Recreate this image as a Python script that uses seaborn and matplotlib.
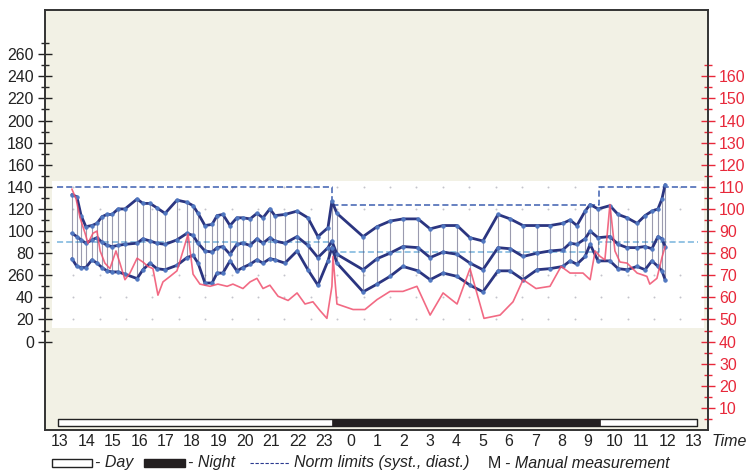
import numpy as np
import pandas as pd
import seaborn as sns
import matplotlib.pyplot as plt
from matplotlib.patches import Rectangle
from matplotlib.lines import Line2D

# blood pressure readings (hours from midnight of day 1, >24 = next day)
bp_time = [13.45, 13.64, 13.80, 13.98, 14.21, 14.40, 14.59, 14.78, 14.97, 15.20,
           15.46, 15.92, 16.14, 16.41, 16.67, 16.98, 17.43, 17.81, 18.04, 18.23,
           18.49, 18.76, 18.95, 19.17, 19.44, 19.70, 19.93, 20.20, 20.46, 20.69,
           20.95, 21.14, 21.52, 21.98, 22.39, 22.77, 23.15, 23.30, 23.49, 24.48,
           25.01, 25.50, 25.99, 26.56, 27.02, 27.51, 28.04, 28.53, 29.02, 29.59,
           30.05, 30.54, 31.07, 31.56, 32.05, 32.32, 32.58, 32.89, 33.08, 33.38,
           33.83, 34.14, 34.48, 34.86, 35.16, 35.42, 35.65, 35.80, 35.92]
systolic = [133, 131, 114, 104, 105, 107, 113, 115, 115, 120,
            120, 129, 125, 125, 121, 116, 128, 126, 123, 116,
            105, 106, 114, 115, 105, 112, 112, 111, 116, 112,
            120, 114, 115, 118, 112, 95, 103, 127, 116, 95,
            104, 109, 111, 111, 102, 105, 105, 94, 91, 115,
            111, 105, 105, 105, 107, 110, 105, 118, 124, 120,
            123, 115, 112, 107, 114, 118, 120, 129, 142]
mean_bp = [98, 95, 92, 89, 92, 94, 90, 87, 86, 87,
           88, 89, 93, 91, 89, 88, 92, 98, 96, 89,
           82, 81, 85, 86, 79, 88, 89, 87, 93, 89,
           94, 91, 89, 95, 87, 76, 85, 91, 79, 65,
           75, 80, 86, 85, 76, 81, 79, 71, 65, 85,
           84, 77, 80, 82, 83, 89, 88, 93, 100, 94,
           95, 88, 85, 85, 86, 84, 95, 93, 86]
diastolic = [75, 68, 67, 67, 74, 71, 67, 64, 63, 63,
             61, 57, 65, 71, 66, 65, 69, 76, 78, 71,
             53, 53, 62, 62, 73, 64, 67, 70, 74, 71,
             75, 74, 71, 82, 65, 51, 73, 85, 71, 45,
             52, 59, 68, 64, 56, 62, 59, 51, 45, 64,
             64, 56, 65, 66, 68, 73, 70, 77, 88, 73,
             73, 66, 65, 68, 65, 73, 68, 64, 56]

# heart rate (right axis)
hr_time = [13.45, 13.61, 13.76, 13.95, 14.06, 14.25, 14.40, 14.52, 14.70, 14.89,
           15.12, 15.27, 15.46, 15.65, 15.92, 16.14, 16.33, 16.52, 16.71, 16.90,
           17.17, 17.43, 17.66, 17.85, 18.04, 18.30, 18.68, 18.98, 19.33, 19.55,
           19.93, 20.20, 20.46, 20.69, 20.95, 21.26, 21.64, 21.98, 22.28, 22.58,
           22.85, 23.11, 23.30, 23.34, 23.49, 24.10, 24.55, 25.01, 25.50, 25.99,
           26.52, 27.02, 27.51, 28.04, 28.53, 29.06, 29.67, 30.16, 30.54, 31.03,
           31.56, 31.98, 32.32, 32.81, 33.08, 33.27, 33.45, 33.64, 33.83, 34.02,
           34.21, 34.48, 34.86, 35.23, 35.34, 35.61, 35.80, 35.92]
heart_rate = [109, 104.5, 96, 89, 84.5, 89, 90, 81, 75.5, 73,
              81, 75.5, 68, 71, 77.7, 76, 74, 73, 61, 67,
              69.5, 72, 81, 88.6, 70.5, 66, 65, 66, 65, 66,
              64, 67, 68.6, 64, 65.5, 60.5, 58.6, 62, 57, 58,
              54, 50.5, 65, 78.6, 57, 54.5, 54.5, 59, 62.7, 62.7,
              65, 52, 62, 57, 73, 50.5, 52, 58, 68, 64,
              65, 74, 71, 71, 68, 81, 78.6, 77, 102, 81,
              76, 75.5, 71, 69.5, 66, 68.6, 78, 83]

# norm limits (step changes at start/end of night)
norm_time = [12.9, 23.3, 33.4, 37.15]
norm_syst = [140, 124, 140, 140]
norm_diast = [90, 81, 90, 90]

# day / night periods
day_span = (12.92, 37.13)
night_span = (23.3, 33.45)

hour_ticks = list(range(13, 38))
hour_labels = [str(h % 24) for h in hour_ticks]
left_ticks = list(range(0, 261, 20))
left_labels = [str(v) for v in left_ticks]
left_labels[3] = "260"  # as printed on the original
right_ticks = list(range(10, 161, 10))
dot_rows = [20, 40, 60, 120, 140]

BG = "#f2f1e5"
NAVY = "#2b3580"
MARK = "#5077c0"
RED = "#f0506e"
TICKRED = "#e8283a"

sns.set_style("white")
plt.rcParams["font.family"] = ["Liberation Sans", "DejaVu Sans"]
plt.rcParams["font.size"] = 11.5

W, H = 749, 471
fig = plt.figure(figsize=(W / 100, H / 100), dpi=100)
ax = fig.add_axes([45 / W, 1 - 430 / H, (708 - 45) / W, (430 - 10) / H])
ax.set_facecolor(BG)
ax.set_xlim(12.432, 37.545)
ax.set_ylim(-80, 300)

# white measurement band
ax.fill_between([12.70, 37.39], 12, 145, color="white", zorder=0.5, lw=0)

# faint dot grid inside the band
gx, gy = np.meshgrid(hour_ticks, dot_rows)
ax.scatter(gx.ravel() + 0.5, gy.ravel(), s=2, color="#c4c4cc", zorder=0.8, lw=0)

# norm limits
ax.plot(norm_time, norm_syst, drawstyle="steps-post", color="#3d5fb0",
        ls=(0, (4, 2)), lw=1.1, zorder=1)
ax.plot(norm_time, norm_diast, drawstyle="steps-post", color="#78b4dc",
        ls=(0, (4, 2)), lw=1.1, zorder=1)

# connectors systolic -> diastolic
ax.vlines(bp_time, diastolic, systolic, color="#4a4a6e", lw=0.8, alpha=0.55, zorder=2)

df = pd.DataFrame({"time": bp_time, "syst": systolic, "mean": mean_bp, "diast": diastolic})
for col in ["syst", "mean", "diast"]:
    sns.lineplot(data=df, x="time", y=col, ax=ax, color=NAVY, lw=2.0, marker="o",
                 markersize=2.4, markerfacecolor=MARK, markeredgecolor=MARK,
                 zorder=4, sort=False)

# day/night bar
ax.broken_barh([(day_span[0], day_span[1] - day_span[0])], (-76.4, 6.4),
               facecolors="white", edgecolors="#222222", lw=1.0, zorder=3)
ax.broken_barh([(night_span[0], night_span[1] - night_span[0])], (-76.4, 6.4),
               facecolors="#231f20", edgecolors="#231f20", lw=0.5, zorder=3)

ax.set_xticks(hour_ticks)
ax.set_xticklabels(hour_labels)
ax.tick_params(axis="x", direction="in", length=5, width=1, pad=3, colors="#222222")
ax.set_yticks(left_ticks)
ax.set_yticklabels(left_labels)
ax.set_yticks(list(range(10, 271, 20)), minor=True)
ax.tick_params(axis="y", which="major", direction="inout", length=10, width=1, pad=3,
               colors="#222222")
ax.tick_params(axis="y", which="minor", direction="inout", length=6, width=1)
ax.set_xlabel("")
ax.set_ylabel("")
for s in ax.spines.values():
    s.set_color("#333333")
    s.set_linewidth(1.2)

# heart rate on right axis
ax2 = ax.twinx()
ax2.set_ylim(0, 190)
sns.lineplot(x=hr_time, y=heart_rate, ax=ax2, color=RED, lw=1.2, alpha=0.85, sort=False)
ax2.set_yticks(right_ticks)
ax2.set_yticks(list(range(5, 166, 10)), minor=True)
ax2.tick_params(axis="y", which="major", direction="inout", length=10, width=1, pad=3,
                colors=TICKRED, labelcolor=TICKRED)
ax2.tick_params(axis="y", which="minor", direction="inout", length=6, width=1,
                colors=TICKRED)
ax2.set_ylabel("")
for s in ax2.spines.values():
    s.set_color("#333333")
    s.set_linewidth(1.2)

fig.text(712 / W, 1 - 441 / H, "Time", style="italic", va="center", ha="left", color="#222222")

# legend row
ly = 1 - 463 / H
fig.patches.append(Rectangle((52 / W, ly - 4 / H), 40 / W, 8 / H, transform=fig.transFigure,
                             facecolor="white", edgecolor="#222222", lw=1))
fig.text(95 / W, ly, "- Day", style="italic", va="center", color="#222222")
fig.patches.append(Rectangle((144 / W, ly - 4 / H), 41 / W, 8 / H, transform=fig.transFigure,
                             facecolor="#231f20", edgecolor="#231f20", lw=1))
fig.text(188 / W, ly, "- Night", style="italic", va="center", color="#222222")
fig.lines.append(Line2D([250 / W, 290 / W], [ly, ly], transform=fig.transFigure,
                        color="#2a3a90", lw=0.8, ls=(0, (3, 1.5))))
fig.text(294 / W, ly, "Norm limits (syst., diast.)", style="italic", va="center", color="#222222")
fig.text(488 / W, ly, "M", va="center", color="#222222")
fig.text(505 / W, ly, "- Manual measurement", style="italic", va="center", color="#222222")

fig.savefig("out.png", dpi=100)
